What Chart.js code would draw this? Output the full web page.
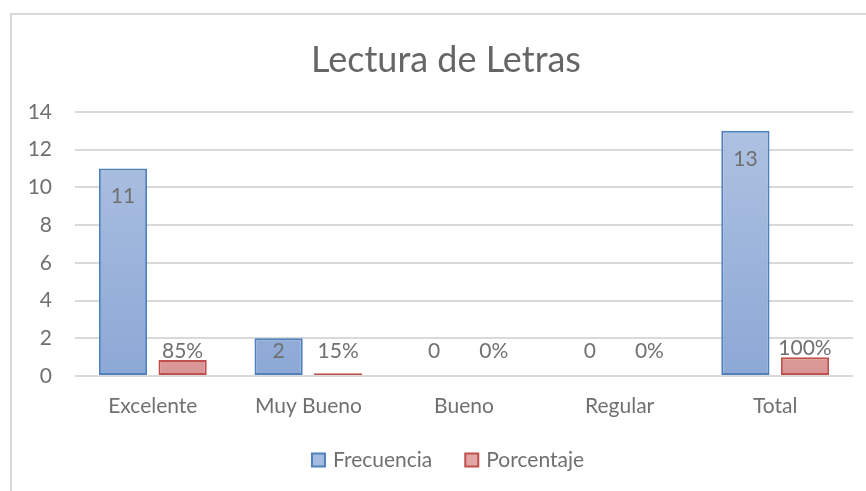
<!DOCTYPE html>
<html>
<head>
<meta charset="utf-8">
<script src="https://cdn.jsdelivr.net/npm/chart.js@4/dist/chart.umd.min.js"></script>
<style>
  html, body { margin: 0; padding: 0; background: #fff; }
  #wrap { position: relative; width: 866px; height: 491px; }
</style>
</head>
<body>
<div id="wrap"><canvas id="chart" width="866" height="491"></canvas></div>
<script>
// datos del grafico
const titulo = 'Lectura de Letras';
const categorias = ['Excelente', 'Muy Bueno', 'Bueno', 'Regular', 'Total'];
const frecuencia = [11, 2, 0, 0, 13];
const porcentaje = [0.85, 0.15, 0, 0, 1];
const porcentajeEtiquetas = ['85%', '15%', '0%', '0%', '100%'];

const FONT = 'Lato, "Open Sans", sans-serif';
const GRIS = '#707070';
const colores = [
    { fondo: '#a5bbe0', borde: '#4f81bd' },
    { fondo: '#e3a7a6', borde: '#c0504d' }
];

// gradiente vertical sobre el area del grafico
function gradiente(ctx, arriba, abajo) {
    const area = ctx.chart.chartArea;
    if (!area) return abajo;
    const g = ctx.chart.ctx.createLinearGradient(0, area.top, 0, area.bottom);
    g.addColorStop(0, arriba);
    g.addColorStop(1, abajo);
    return g;
}

// marco gris, titulo y leyenda como en Excel
const marco = {
    id: 'marco',
    beforeDraw(chart) {
        const c = chart.ctx;
        c.save();
        c.strokeStyle = '#d9d9d9';
        c.lineWidth = 2;
        c.beginPath();
        c.moveTo(11, 491);
        c.lineTo(11, 14);
        c.lineTo(866, 14);
        c.stroke();

        // titulo
        c.font = '36px ' + FONT;
        c.fillStyle = '#666666';
        c.textAlign = 'center';
        c.textBaseline = 'middle';
        c.fillText(titulo, 446, 60);

        // leyenda
        c.font = '21px ' + FONT;
        c.textAlign = 'left';
        const caja = 13, hueco = 8, sep = 33;
        const anchos = chart.data.datasets.map(ds => c.measureText(ds.label).width);
        let total = sep * (anchos.length - 1);
        anchos.forEach(w => { total += caja + hueco + w; });
        let x = 448 - total / 2;
        const yl = 460;
        chart.data.datasets.forEach((ds, i) => {
            c.fillStyle = colores[i].fondo;
            c.fillRect(x, yl - caja / 2, caja, caja);
            c.strokeStyle = colores[i].borde;
            c.lineWidth = 2;
            c.strokeRect(x, yl - caja / 2, caja, caja);
            c.fillStyle = GRIS;
            c.fillText(ds.label, x + caja + hueco, yl);
            x += caja + hueco + anchos[i] + sep;
        });
        c.restore();
    }
};

// etiquetas de datos
const etiquetas = {
    id: 'etiquetas',
    afterDatasetsDraw(chart) {
        const c = chart.ctx;
        const y = chart.scales.y;
        const tope = y.getPixelForValue(1.3);
        c.save();
        c.font = '21px ' + FONT;
        c.fillStyle = GRIS;
        c.textAlign = 'center';
        c.textBaseline = 'middle';
        chart.getDatasetMeta(0).data.forEach((bar, i) => {
            const py = Math.min(bar.y + 28, tope);
            c.fillText(String(frecuencia[i]), bar.x, py);
        });
        chart.getDatasetMeta(1).data.forEach((bar, i) => {
            const py = Math.min(bar.y - 9, tope);
            c.fillText(porcentajeEtiquetas[i], bar.x, py);
        });
        c.restore();
    }
};

new Chart(document.getElementById('chart'), {
    type: 'bar',
    data: {
        labels: categorias,
        datasets: [
            {
                label: 'Frecuencia',
                data: frecuencia,
                backgroundColor: ctx => gradiente(ctx, '#b0c3e2', '#8ca8d5'),
                borderColor: colores[0].borde,
                borderWidth: 2,
                borderSkipped: false,
                categoryPercentage: 0.766,
                barPercentage: 0.81
            },
            {
                label: 'Porcentaje',
                data: porcentaje,
                backgroundColor: ctx => gradiente(ctx, '#ebb4b3', '#d99694'),
                borderColor: colores[1].borde,
                borderWidth: 2,
                borderSkipped: false,
                categoryPercentage: 0.766,
                barPercentage: 0.81
            }
        ]
    },
    options: {
        responsive: false,
        animation: false,
        layout: { padding: { top: 112, right: 13, bottom: 57, left: 0 } },
        plugins: {
            title: { display: false },
            legend: { display: false },
            tooltip: { enabled: false }
        },
        scales: {
            x: {
                grid: { display: false, drawTicks: false },
                border: { display: false },
                ticks: { color: GRIS, font: { family: FONT, size: 21 }, padding: 18 },
                afterFit(scale) { scale.height = 58; }
            },
            y: {
                min: 0,
                max: 14,
                ticks: { stepSize: 2, color: GRIS, font: { family: FONT, size: 21 }, padding: 23 },
                grid: { color: '#d9d9d9', lineWidth: 2, drawTicks: false },
                border: { display: false },
                afterFit(scale) { scale.width = 75; }
            }
        }
    },
    plugins: [marco, etiquetas]
});
</script>
</body>
</html>
